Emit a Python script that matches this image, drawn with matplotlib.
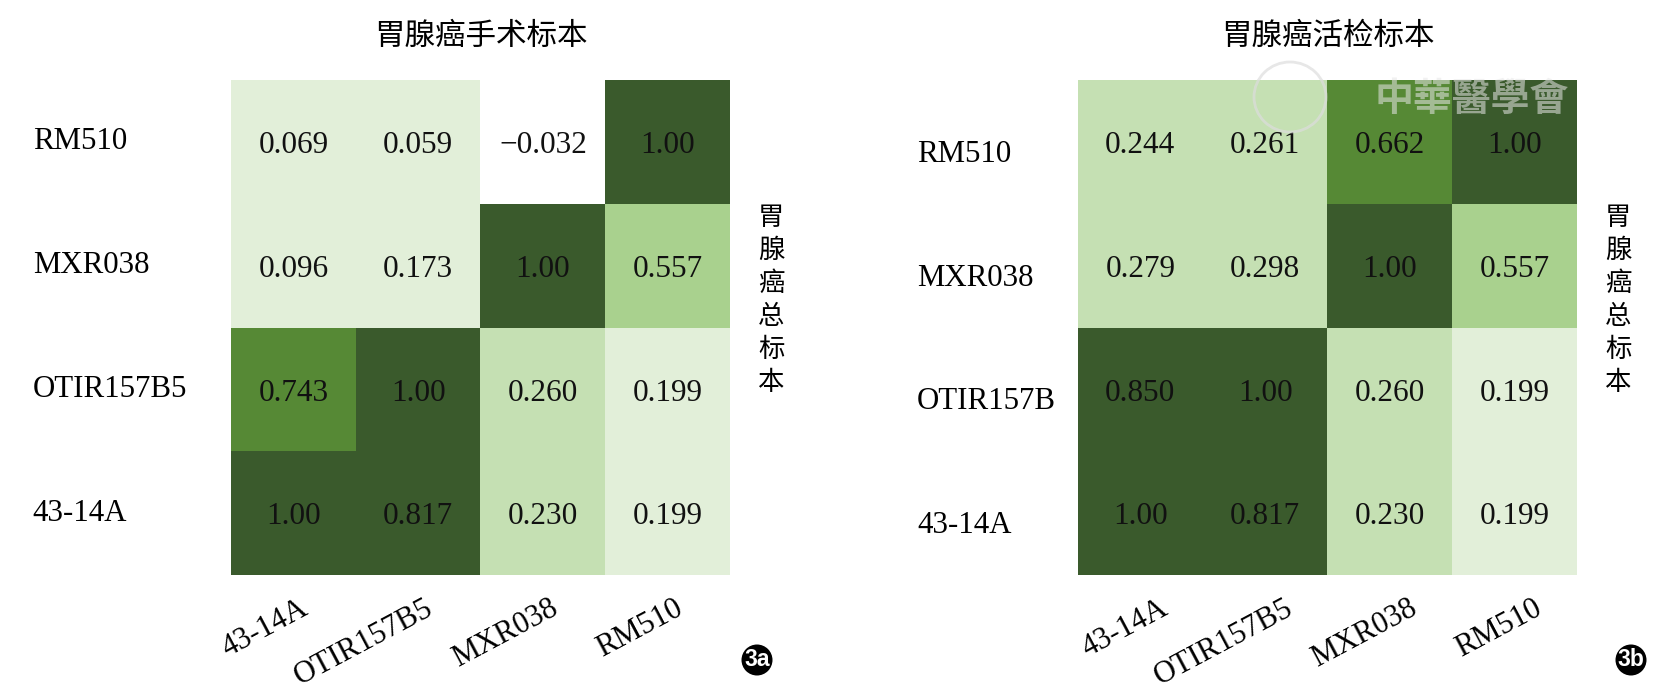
import numpy as np
import matplotlib.pyplot as plt
from matplotlib.colors import ListedColormap, BoundaryNorm
from matplotlib.patches import Ellipse

SERIF = 'Liberation Serif'
CJK = ['Noto Sans CJK SC', 'DejaVu Sans']

# rows top -> bottom, columns left -> right
col_labels = ["43-14A", "OTIR157B5", "MXR038", "RM510"]
rows_a = ["RM510", "MXR038", "OTIR157B5", "43-14A"]
rows_b = ["RM510", "MXR038", "OTIR157B", "43-14A"]

vals_a = [[0.069, 0.059, -0.032, 1.00],
          [0.096, 0.173, 1.00, 0.557],
          [0.743, 1.00, 0.260, 0.199],
          [1.00, 0.817, 0.230, 0.199]]

vals_b = [[0.244, 0.261, 0.662, 1.00],
          [0.279, 0.298, 1.00, 0.557],
          [0.850, 1.00, 0.260, 0.199],
          [1.00, 0.817, 0.230, 0.199]]

title_a = "胃腺癌手术标本"
title_b = "胃腺癌活检标本"
side_label = "胃腺癌总标本"

# stepped green scale like the original (Office green shades)
bounds = [-1.0, 0.0, 0.2, 0.5, 0.6, 0.8, 1.01]
cmap = ListedColormap(['#ffffff', '#e2efd9', '#c5e0b3', '#a9d18e', '#568935', '#3a5a2c'])
norm = BoundaryNorm(bounds, cmap.N)


def fmt(v):
    if v == 1:
        return "1.00"
    return f"{v:.3f}".replace('-', '\u2212')


def draw_panel(ax, vals, row_labels, title, label_x, label_dy, tick_dx):
    data = np.array(vals)
    ax.pcolormesh(np.arange(5), np.arange(5), data, cmap=cmap, norm=norm,
                  antialiased=False, linewidth=0)
    ax.set_xlim(0, 4)
    ax.set_ylim(4, 0)
    ax.axis('off')

    for i in range(data.shape[0]):
        for j in range(data.shape[1]):
            ax.text(j + 0.5, i + 0.53, fmt(data[i, j]), ha='center', va='center',
                    fontsize=22.5, family=SERIF, color='#111111')

    for i, lab in enumerate(row_labels):
        ax.text(label_x, i + 0.5 + label_dy, lab, ha='left', va='center',
                fontsize=22.2, family=SERIF, clip_on=False)

    for j, lab in enumerate(col_labels):
        ax.text(j + 0.5 + tick_dx, 4.15, lab, rotation=28, ha='right', va='top',
                rotation_mode='anchor', fontsize=22, family=SERIF, clip_on=False)

    ax.text(2, -0.35, title, ha='center', va='center', family=CJK,
            fontsize=22, clip_on=False)
    ax.text(4.33, 1.78, '\n'.join(side_label), ha='center', va='center',
            family=CJK, fontsize=19, linespacing=1.29, clip_on=False)


fig = plt.figure(figsize=(16.56, 6.93), dpi=100)
ax1 = fig.add_axes([231 / 1656, 1 - 575 / 693, 499 / 1656, 495 / 693])
ax2 = fig.add_axes([1078 / 1656, 1 - 575 / 693, 499 / 1656, 495 / 693])

draw_panel(ax1, vals_a, rows_a, title_a, -1.59, 0.0, 0.05)
draw_panel(ax2, vals_b, rows_b, title_b, -1.29, 0.1, 0.15)

# panel badges
for tag, x in [("3a", 757), ("3b", 1631)]:
    fx, fy = x / 1656, 1 - 660 / 693
    fig.patches.append(Ellipse((fx, fy), 31 / 1656, 31 / 693, transform=fig.transFigure,
                               facecolor='black', edgecolor='none'))
    fig.text(fx, fy, tag, ha='center', va='center', color='white', fontsize=16.5,
             family='Liberation Sans', fontweight='bold')

# faint publisher watermark
fig.patches.append(Ellipse((1290 / 1656, 1 - 97 / 693), 72 / 1656, 70 / 693,
                           transform=fig.transFigure, facecolor='none',
                           edgecolor='#dddddd', linewidth=2, alpha=0.7))
fig.text(1472 / 1656, 1 - 100 / 693, "中華醫學會", ha='center', va='center',
         fontsize=28, color='#e6e6e6', alpha=0.55, style='italic',
         family=['Noto Sans CJK TC', 'DejaVu Sans'], fontweight='bold')

fig.savefig('out.png', dpi=100)
